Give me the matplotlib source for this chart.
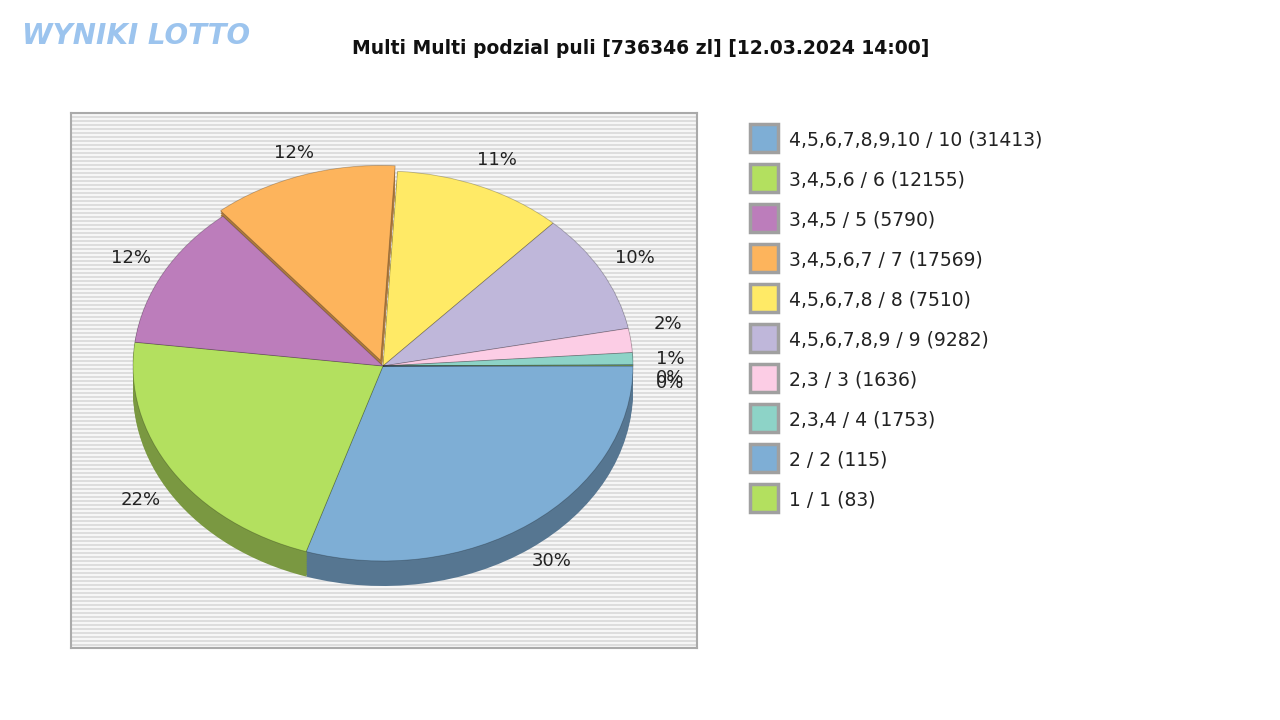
import numpy as np
import matplotlib.pyplot as plt
import matplotlib.colors as mcolors

title = "Multi Multi podzial puli [736346 zl] [12.03.2024 14:00]"
labels = ["4,5,6,7,8,9,10 / 10 (31413)", "3,4,5,6 / 6 (12155)", "3,4,5 / 5 (5790)",
          "3,4,5,6,7 / 7 (17569)", "4,5,6,7,8 / 8 (7510)", "4,5,6,7,8,9 / 9 (9282)",
          "2,3 / 3 (1636)", "2,3,4 / 4 (1753)", "2 / 2 (115)", "1 / 1 (83)"]
shares = [30, 22, 12, 12, 11, 10, 2, 1, 0.05, 0.05]
pct_text = ["30%", "22%", "12%", "12%", "11%", "10%", "2%", "1%", "0%", "0%"]
colors = ["#7eaed5", "#b3e05f", "#bc7dbb", "#fdb45c", "#ffea66", "#bfb7da",
          "#fccde5", "#8dd3c7", "#7eaed5", "#b3e05f"]
explode = [0, 0, 0, 0.03, 0, 0, 0, 0, 0, 0]

fig = plt.figure(figsize=(12.8, 7.2), dpi=100)
fig.patch.set_facecolor("white")

# plot area in pixel coords: 71..697 x, 113..648 y; pie centre (383,366), rx 250, ry 195
ax = fig.add_axes([71/1280, 1-648/720, 626/1280, 535/720])
x0, x1 = (71-383)/250, (697-383)/250
y0, y1 = (366-648)/195, (366-113)/195
ax.set_facecolor("#dcdcdc")
for yp in np.arange(115, 648, 4):
    yy = (366-yp)/195
    ax.axhline(yy, color="#f6f6f6", lw=1.5, zorder=0)

depth = 25/195
dark = [tuple(c*0.68 for c in mcolors.to_rgb(c)) for c in colors]
for d in np.linspace(depth, 0.005, 14):
    ax.pie(shares, colors=dark, startangle=0, counterclock=False, explode=explode,
           center=(0, -d), radius=1, frame=True, wedgeprops=dict(lw=0))
wedges, _ = ax.pie(shares, colors=colors, startangle=0, counterclock=False, explode=explode,
                   center=(0, 0), radius=1, frame=True,
                   wedgeprops=dict(lw=0.6, edgecolor=(0, 0, 0, 0.25)))

# percentage labels
ang = 0
dy_small = [0, 0, 0, 0, 0, 0, 0.07, 0.0, -0.06, -0.08]
for s, t, dy in zip(shares, pct_text, dy_small):
    mid = np.deg2rad(-(ang + s*3.6/2))
    ang += s*3.6
    r = 1.15
    ax.text(r*np.cos(mid), r*np.sin(mid) - (0.07 if np.sin(mid) < -0.2 else 0) + dy, t,
            ha="center", va="center", fontsize=13, color="#222222")

ax.set_xlim(x0, x1)
ax.set_ylim(y0, y1)
ax.set_aspect("auto")
ax.set_xticks([])
ax.set_yticks([])
for sp in ax.spines.values():
    sp.set_color("#aaaaaa")
    sp.set_linewidth(1.5)

fig.text(641/1280, 1-48/720, title, ha="center", va="center", fontsize=13.5,
         fontweight="bold", color="#111111")
fig.text(22/1280, 1-36/720, "WYNIKI LOTTO", ha="left", va="center", fontsize=20,
         fontweight="bold", color="#9cc4ee", fontstyle="italic")

for i, (lab, c) in enumerate(zip(labels, colors)):
    yp = 138 + 40*i
    fig.patches.append(plt.Rectangle((750/1280, 1-(yp+14)/720), 28/1280, 28/720,
                                     transform=fig.transFigure, facecolor=c,
                                     edgecolor="#a0a0a0", lw=2.5))
    fig.text(789/1280, 1-(yp+2)/720, lab, ha="left", va="center", fontsize=13.5, color="#222222")

plt.savefig("out.png", dpi=100)
